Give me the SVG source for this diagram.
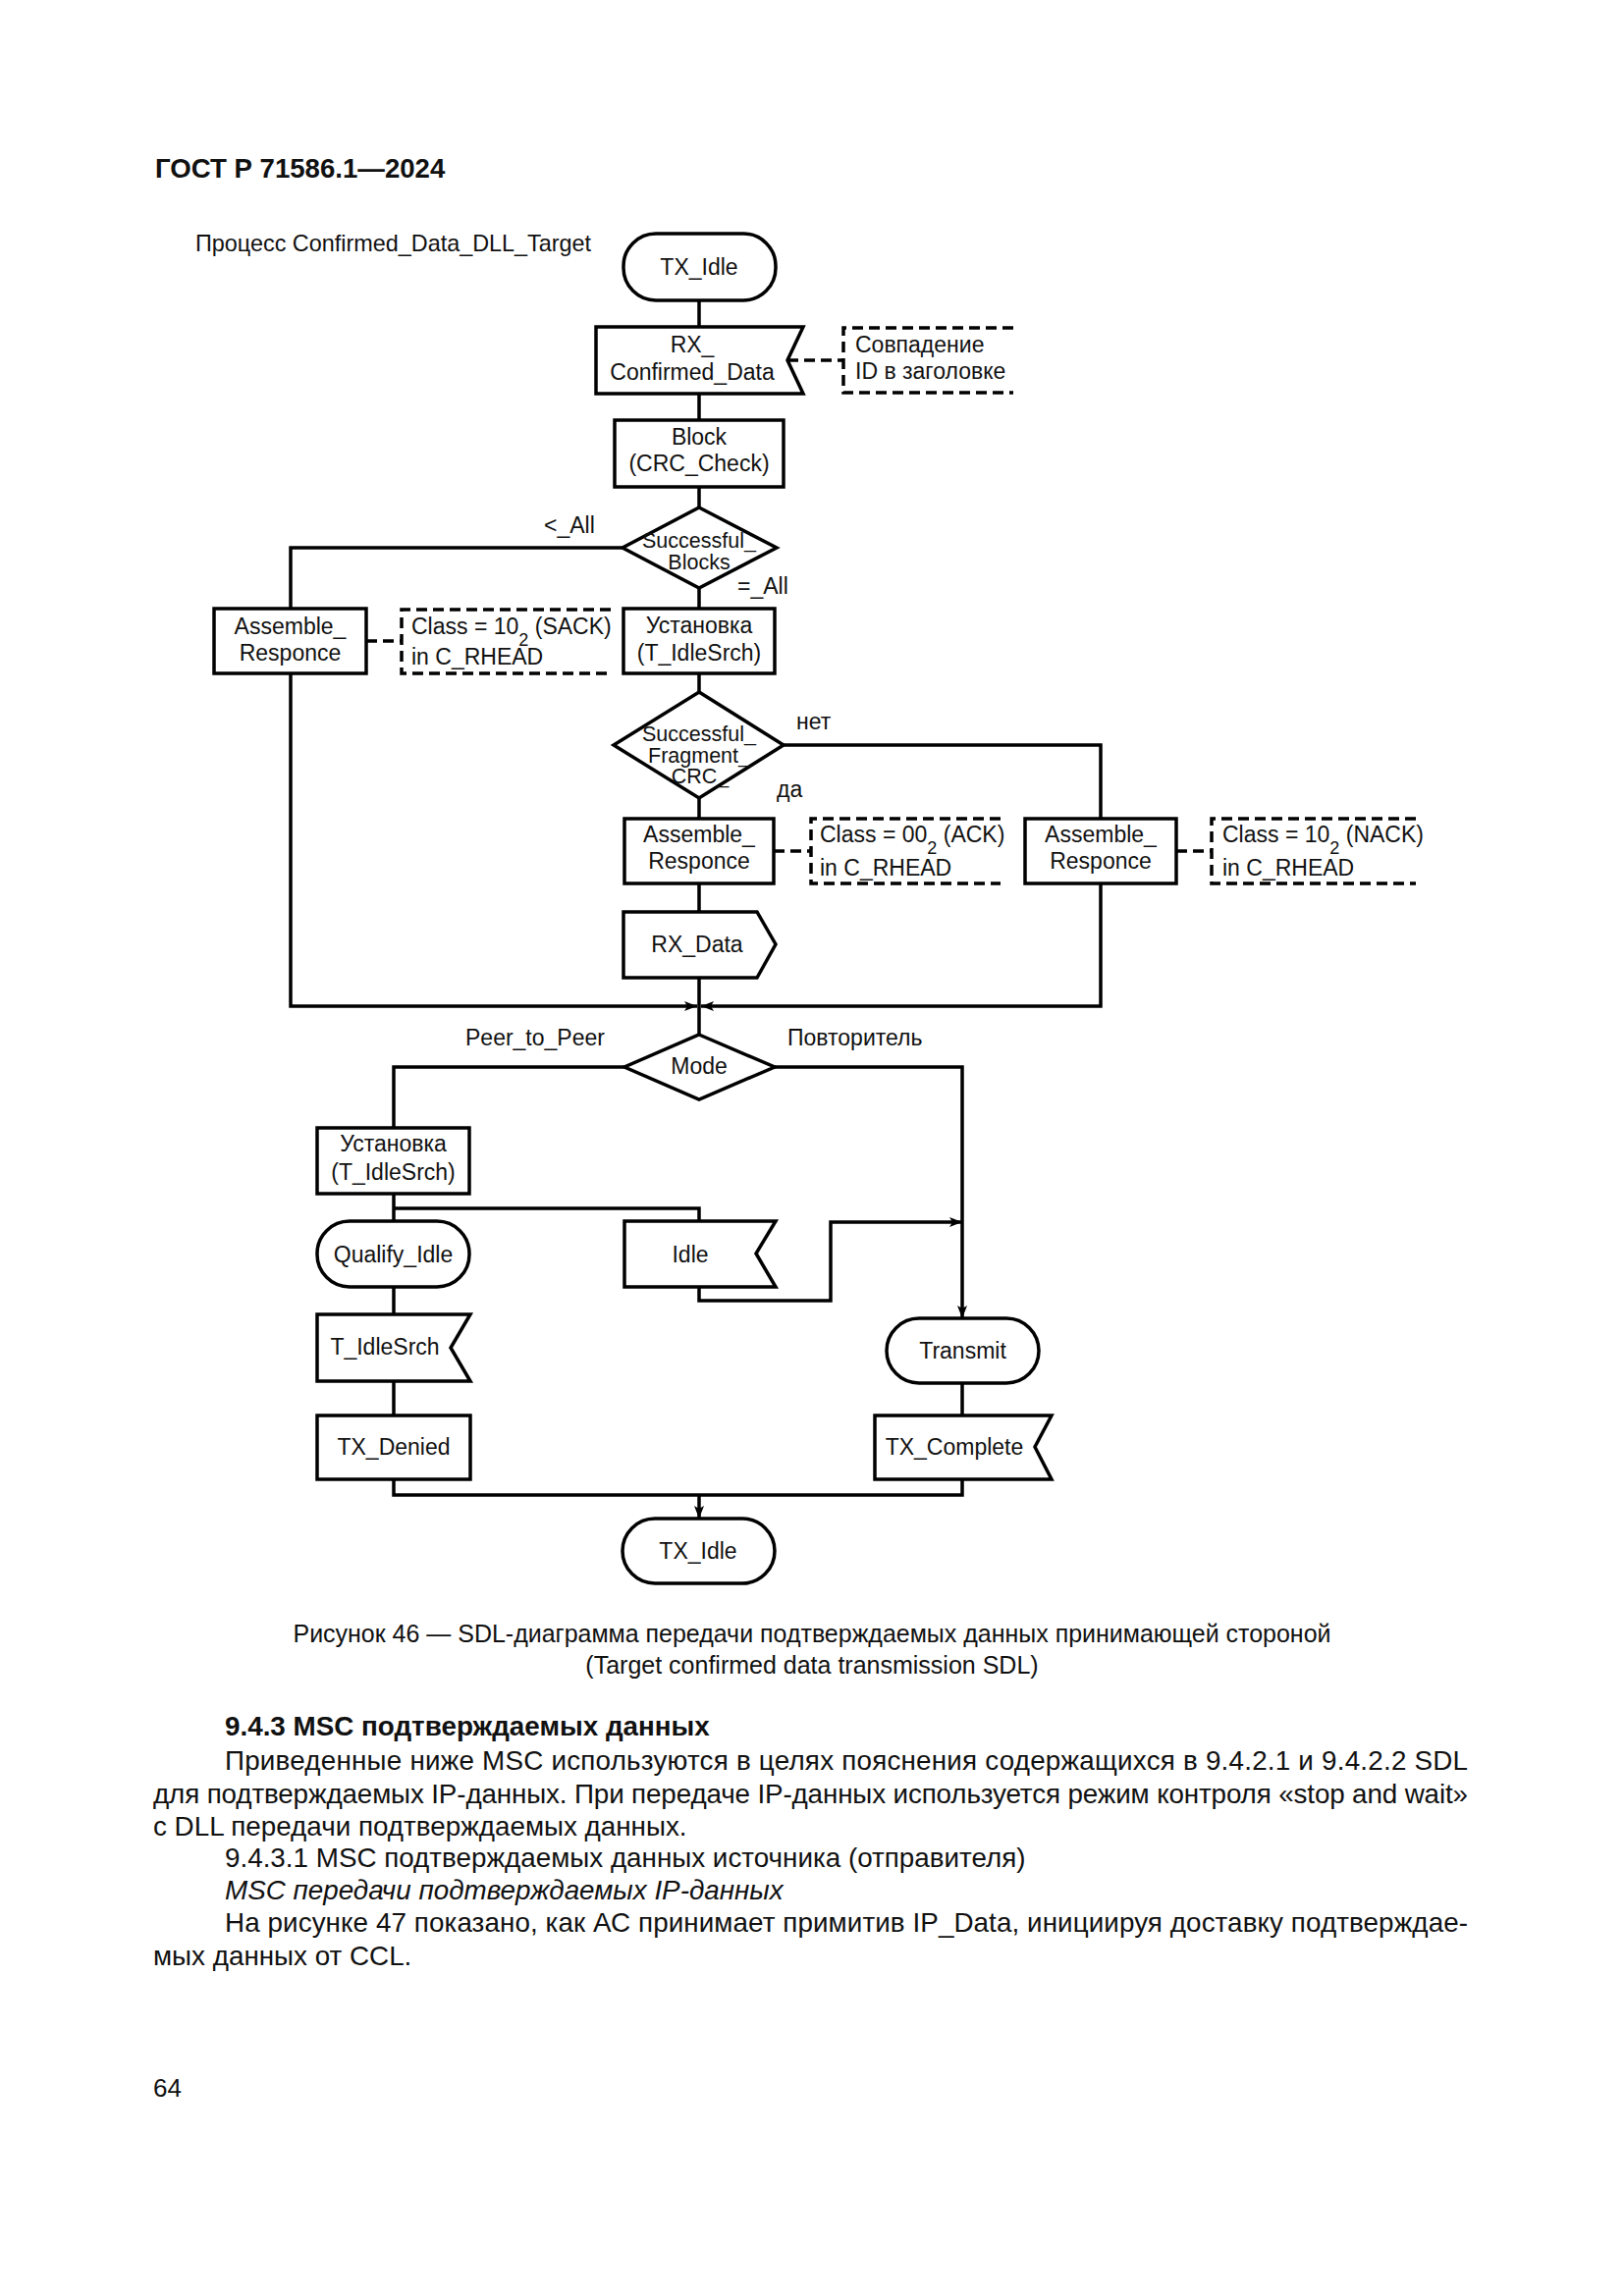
<svg xmlns="http://www.w3.org/2000/svg" width="1654" height="2339" viewBox="0 0 1654 2339">
<style>
.s{fill:#fff;stroke:#000;stroke-width:3.5}
.l{fill:none;stroke:#000;stroke-width:3.5}
.d{fill:none;stroke:#000;stroke-width:3.5;stroke-dasharray:11 6}
text{font-family:"Liberation Sans",Arial,sans-serif;fill:#111}
.t{font-size:23px}
.c{text-anchor:middle}
.dt{font-size:21.5px}
.b{font-size:27.8px}
</style>
<defs>
<marker id="a" markerUnits="userSpaceOnUse" markerWidth="14" markerHeight="12" refX="13" refY="6" orient="auto">
<path d="M0,1 L13,6 L0,11 L3,6 z" fill="#000"/>
</marker>
</defs>
<rect width="1654" height="2339" fill="#fff"/>
<text x="158" y="181" style="font-size:27.6px;font-weight:bold">ГОСТ Р 71586.1—2024</text>
<text x="199" y="256" style="font-size:23.4px">Процесс Confirmed_Data_DLL_Target</text>

<g id="connectors">
<path class="l" d="M712,306 V333 M712,401 V428 M712,496 V517 M634,558 H296 V620 M712,599 V620 M712,686 V705 M798,759 H1121 V834 M712,813 V834 M712,900 V929 M712,996 V1054"/>
<path class="l" d="M296,686 V1025 H710" marker-end="url(#a)"/>
<path class="l" d="M1121,900 V1025 H714" marker-end="url(#a)"/>
<path class="l" d="M789,1087 H980 V1343" marker-end="url(#a)"/>
<path class="l" d="M636,1087 H401 V1149 M401,1216 V1244 M401,1231 H712 V1244 M401,1311 V1339 M401,1407 V1442 M401,1507 V1523 H980 V1507 M980,1409 V1442"/>
<path class="l" d="M712,1311 V1325 H846 V1245 H980" marker-end="url(#a)"/>
<path class="l" d="M712,1523 V1547" marker-end="url(#a)"/>
<path class="d" d="M802,367 H859 M373,653 H409 M788,867 H826 M1198,867 H1234"/>
</g>

<g id="tx_idle_top"><rect class="s" x="635" y="238" width="155" height="68" rx="33"/><text class="t c" x="712" y="280">TX_Idle</text></g>
<g id="rx_confirmed"><polygon class="s" points="607,333 818,333 802,367 818,401 607,401"/><text class="t c" x="705" y="359">RX_</text><text class="t c" x="705" y="387">Confirmed_Data</text></g>
<g id="comment_id"><path class="d" d="M1032,334 H859 V400 H1032"/><text class="t" x="871" y="359">Совпадение</text><text class="t" x="871" y="386">ID в заголовке</text></g>
<g id="block_crc"><rect class="s" x="626" y="428" width="172" height="68"/><text class="t c" x="712" y="453">Block</text><text class="t c" x="712" y="480">(CRC_Check)</text></g>
<g id="dec_blocks"><polygon class="s" points="712,517 791,558 712,599 634,558"/><text class="dt c" x="712" y="558">Successful_</text><text class="dt c" x="712" y="580">Blocks</text></g>
<text class="t" x="554" y="543">&lt;_All</text>
<text class="t" x="751" y="605">=_All</text>
<g id="assemble_sack"><rect class="s" x="218" y="620" width="155" height="66"/><text class="t c" x="295.5" y="646">Assemble_</text><text class="t c" x="295.5" y="673">Responce</text></g>
<g id="comment_sack"><path class="d" d="M622,621 H409 V686 H622"/><text class="t" x="419" y="646">Class = 10<tspan font-size="18" dy="12">2</tspan><tspan dy="-12"> (SACK)</tspan></text><text class="t" x="419" y="677">in C_RHEAD</text></g>
<g id="set_timer1"><rect class="s" x="635" y="620" width="154" height="66"/><text class="t c" x="712" y="645">Установка</text><text class="t c" x="712" y="673">(T_IdleSrch)</text></g>
<g id="dec_fragment"><polygon class="s" points="712,705 798,759 712,813 625,759"/><text class="dt c" x="712" y="755">Successful_</text><text class="dt c" x="712" y="777">Fragment_</text><text class="dt c" x="713" y="798">CRC_</text></g>
<text class="t" x="811" y="743">нет</text>
<text class="t" x="791" y="812">да</text>
<g id="assemble_ack"><rect class="s" x="636" y="834" width="152" height="66"/><text class="t c" x="712" y="858">Assemble_</text><text class="t c" x="712" y="885">Responce</text></g>
<g id="comment_ack"><path class="d" d="M1019,834 H826 V900 H1019"/><text class="t" x="835" y="858">Class = 00<tspan font-size="18" dy="12">2</tspan><tspan dy="-12"> (ACK)</tspan></text><text class="t" x="835" y="892">in C_RHEAD</text></g>
<g id="assemble_nack"><rect class="s" x="1044" y="834" width="154" height="66"/><text class="t c" x="1121" y="858">Assemble_</text><text class="t c" x="1121" y="885">Responce</text></g>
<g id="comment_nack"><path class="d" d="M1442,834 H1234 V900 H1442"/><text class="t" x="1245" y="858">Class = 10<tspan font-size="18" dy="12">2</tspan><tspan dy="-12"> (NACK)</tspan></text><text class="t" x="1245" y="892">in C_RHEAD</text></g>
<g id="rx_data"><polygon class="s" points="635,929 771,929 790,962 771,996 635,996"/><text class="t c" x="710" y="970">RX_Data</text></g>
<g id="dec_mode"><polygon class="s" points="712,1054 789,1087 712,1120 636,1087"/><text class="t c" x="712" y="1094">Mode</text></g>
<text class="t" x="474" y="1065">Peer_to_Peer</text>
<text class="t" x="802" y="1065">Повторитель</text>
<g id="set_timer2"><rect class="s" x="323" y="1149" width="155" height="67"/><text class="t c" x="400.5" y="1173">Установка</text><text class="t c" x="400.5" y="1202">(T_IdleSrch)</text></g>
<g id="qualify_idle"><rect class="s" x="323" y="1244" width="155" height="67" rx="33"/><text class="t c" x="400.5" y="1286">Qualify_Idle</text></g>
<g id="idle"><polygon class="s" points="636,1244 790,1244 770,1277 790,1311 636,1311"/><text class="t c" x="703" y="1286">Idle</text></g>
<g id="t_idlesrch"><polygon class="s" points="323,1339 479,1339 459,1373 479,1407 323,1407"/><text class="t c" x="392" y="1380">T_IdleSrch</text></g>
<g id="tx_denied"><rect class="s" x="323" y="1442" width="156" height="65"/><text class="t c" x="401" y="1482">TX_Denied</text></g>
<g id="transmit"><rect class="s" x="903" y="1343" width="155" height="66" rx="33"/><text class="t c" x="980.5" y="1384">Transmit</text></g>
<g id="tx_complete"><polygon class="s" points="891,1442 1071,1442 1054,1474 1071,1507 891,1507"/><text class="t c" x="972" y="1482">TX_Complete</text></g>
<g id="tx_idle_bottom"><rect class="s" x="634" y="1547" width="155" height="66" rx="33"/><text class="t c" x="711" y="1588">TX_Idle</text></g>

<text class="c" x="827" y="1673" style="font-size:25px" textLength="1057" lengthAdjust="spacingAndGlyphs">Рисунок 46 — SDL-диаграмма передачи подтверждаемых данных принимающей стороной</text>
<text class="c" x="827" y="1705" style="font-size:25px">(Target confirmed data transmission SDL)</text>

<text class="b" x="229" y="1768" font-weight="bold">9.4.3 MSC подтверждаемых данных</text>
<text class="b" x="229" y="1803" textLength="1266" lengthAdjust="spacing">Приведенные ниже MSC используются в целях пояснения содержащихся в 9.4.2.1 и 9.4.2.2 SDL</text>
<text class="b" x="156" y="1837" textLength="1339" lengthAdjust="spacing">для подтверждаемых IP-данных. При передаче IP-данных используется режим контроля «stop and wait»</text>
<text class="b" x="156" y="1870">с DLL передачи подтверждаемых данных.</text>
<text class="b" x="229" y="1902">9.4.3.1 MSC подтверждаемых данных источника (отправителя)</text>
<text class="b" x="229" y="1935" font-style="italic">MSC передачи подтверждаемых IP-данных</text>
<text class="b" x="229" y="1968" textLength="1266" lengthAdjust="spacing">На рисунке 47 показано, как АС принимает примитив IP_Data, инициируя доставку подтверждае-</text>
<text class="b" x="156" y="2002">мых данных от CCL.</text>
<text x="156" y="2136" style="font-size:26px">64</text>
</svg>
